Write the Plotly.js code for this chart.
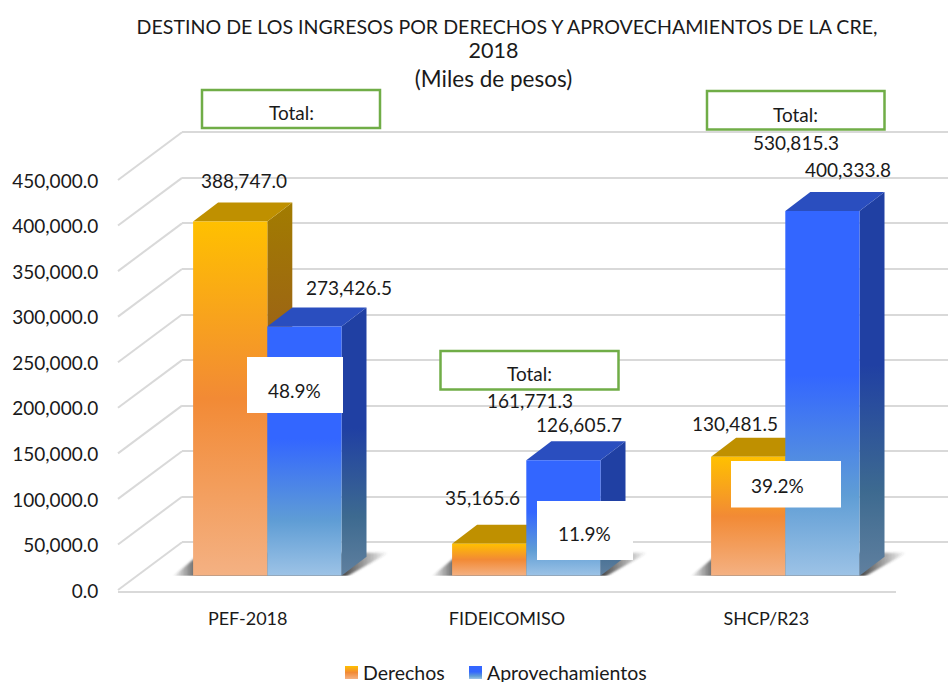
<!DOCTYPE html>
<html>
<head>
<meta charset="utf-8">
<script src="https://cdn.plot.ly/plotly-3.0.1.min.js"></script>
<style>html,body{margin:0;padding:0;background:#fff}#c{width:948px;height:682px}</style>
</head>
<body>
<div id="c"></div>
<script>
// ---- data ----
const categories = ['PEF-2018', 'FIDEICOMISO', 'SHCP/R23'];
const derechos = [388747.0, 35165.6, 130481.5];
const aprovechamientos = [273426.5, 126605.7, 400333.8];
const totals = [null, 161771.3, 530815.3];
const percents = ['48.9%', '11.9%', '39.2%'];
const titleLines = ['DESTINO DE LOS INGRESOS POR DERECHOS Y APROVECHAMIENTOS DE LA CRE,', '<span style="font-size:21.5px">2018</span>', '<span style="font-size:22.5px">(Miles de pesos)</span>'];
const tickStep = 50000, valueMax = 450000;

// ---- page layout constants (pixels) ----
const W = 948, H = 682;
const FONT = 'Lato, "Open Sans", sans-serif';
const INK = '#1a1a1a';
const GRID = '#d9d9d9';
const GREEN = '#70ad47';
const SIZE = 19;
const px = x => x / W, py = y => 1 - y / H;
const plotW = 777, plotH = 410;
const unitX = 3 / plotW, unitY = valueMax / plotH;
const depthX = 25 * unitX, depthY = 19 * unitY;
const barW = 0.2865;
const gridPad = 5000;

const fmt = v => v.toLocaleString('en-US', {minimumFractionDigits: 1, maximumFractionDigits: 1});
const poly = pts => 'M' + pts.map(p => p[0] + ',' + p[1]).join('L') + 'Z';

const tickvals = [];
for (let v = 0; v <= valueMax; v += tickStep) tickvals.push(v);

const shapes = [];
// Diagonal wall lines from the front plane to the back wall
tickvals.forEach(v => {
  const yF = 590 - v / unitY, yB = 542.3 - v / unitY;
  shapes.push({type: 'line', xref: 'paper', yref: 'paper', layer: 'below', x0: px(118), x1: px(182), y0: py(yF), y1: py(yB), line: {color: GRID, width: 2}});
});

// ---- 3D faces, derived from the data ----
const styleByIndex = {};
function face(path, fill, key) {
  styleByIndex[shapes.length] = key;
  shapes.push({type: 'path', xref: 'x2', yref: 'y2', layer: 'below', path, fillcolor: fill, line: {width: 0}});
}
categories.forEach((c, i) => {
  const l = i - barW, r = i + barW;
  face(poly([[l - 21 * unitX, -1.5 * unitY], [l + 8 * unitX, 23 * unitY], [r + 47 * unitX, 23 * unitY], [r + 4 * unitX, -1.5 * unitY]]), '#454545', 'shadow');
});
[[derechos, -1, 'o'], [aprovechamientos, 0, 'b']].forEach(([vals, off, k]) => {
  vals.forEach((v, i) => {
    const l = i + off * barW, r = l + barW;
    face(poly([[r, 0], [r + depthX, depthY], [r + depthX, v + depthY], [r, v]]), k === 'o' ? '#a27c00' : '#2040a3', k + 'Side');
    face(poly([[l, v], [l + depthX, v + depthY], [r + depthX, v + depthY], [r, v]]), k === 'o' ? '#bf9000' : '#2a4ebf', k + 'Top');
  });
});

// ---- boxes ----
const rect = (x0, y0, x1, y1, line) => ({type: 'rect', xref: 'paper', yref: 'paper', layer: 'above',
  x0: px(x0), x1: px(x1), y0: py(y1), y1: py(y0), fillcolor: '#ffffff', line});
const greenLine = {color: GREEN, width: 2.5};
const noLine = {width: 0};
shapes.push(rect(202, 90, 380, 128, greenLine));
shapes.push(rect(440.5, 351, 618.5, 389.5, greenLine));
shapes.push(rect(707, 91, 884.5, 129.5, greenLine));
shapes.push(rect(247, 357, 343, 413, noLine));
shapes.push(rect(537, 501, 633, 560, noLine));
shapes.push(rect(731, 461, 841, 507.5, noLine));

// ---- text ----
const note = (text, x, y) => ({text, xref: 'paper', yref: 'paper', x: px(x), y: py(y), xanchor: 'center', yanchor: 'middle',
  showarrow: false, font: {family: FONT, size: SIZE, color: INK}});
const barNote = (v, cat, barPos, sx, sy) => ({text: fmt(v), xref: 'x2', yref: 'y2', x: cat + barPos * barW, y: v,
  xshift: sx, yshift: sy, xanchor: 'center', yanchor: 'middle', showarrow: false, font: {family: FONT, size: SIZE, color: INK}});
const derShift = [[14, 41], [-7, 46], [-13, 33]];
const aprShift = [[45, 39], [16, 36], [26, 41]];
const annotations = [];
derechos.forEach((v, i) => annotations.push(barNote(v, i, -0.5, derShift[i][0], derShift[i][1])));
aprovechamientos.forEach((v, i) => annotations.push(barNote(v, i, 0.5, aprShift[i][0], aprShift[i][1])));
annotations.push(note('Total:', 291, 113), note('Total:', 529, 374), note('Total:', 795, 115));
annotations.push(note(fmt(totals[1]), 529.5, 400), note(fmt(totals[2]), 795.5, 142));
annotations.push(note(percents[0], 294, 390), note(percents[1], 584, 533), note(percents[2], 777, 485));

const traces = [
  {type: 'scatter', mode: 'none', x: [0], y: [0], xaxis: 'x', yaxis: 'y', showlegend: false, hoverinfo: 'skip'},
  {type: 'bar', name: 'Derechos', x: categories, y: derechos, xaxis: 'x2', yaxis: 'y2', marker: {color: '#f28a35'}, hoverinfo: 'skip', cliponaxis: false},
  {type: 'bar', name: 'Aprovechamientos', x: categories, y: aprovechamientos, xaxis: 'x2', yaxis: 'y2', marker: {color: '#3366ff'}, hoverinfo: 'skip', cliponaxis: false},
  {type: 'scatter', mode: 'none', x: categories, y: [0, 0, 0], xaxis: 'x3', yaxis: 'y3', showlegend: false, hoverinfo: 'skip'},
];

const padPx = gridPad / unitY;
const layout = {
  width: W, height: H, margin: {l: 0, r: 0, t: 0, b: 0},
  paper_bgcolor: '#ffffff', plot_bgcolor: 'rgba(0,0,0,0)',
  font: {family: FONT, size: SIZE, color: INK},
  title: {text: titleLines.join('<br>'), x: px(493.5), xanchor: 'center', y: py(34), yanchor: 'top', font: {family: FONT, size: 19.6, color: INK}},
  barmode: 'group', bargap: 0.427, bargroupgap: 0,
  // back wall
  xaxis: {domain: [px(182), 1], range: [0, 1], anchor: 'y', visible: false, fixedrange: true},
  yaxis: {domain: [py(542.3 + padPx), py(132.3 - padPx)], range: [-gridPad, valueMax + gridPad], anchor: 'x', showgrid: true, gridcolor: GRID, gridwidth: 2,
          tickvals, showticklabels: false, ticks: '', showline: false, zeroline: false, fixedrange: true},
  // bar plane
  xaxis2: {domain: [px(137.8), px(914.8)], type: 'category', categoryorder: 'array', categoryarray: categories, range: [-0.5, 2.5], anchor: 'y2', visible: false, fixedrange: true},
  yaxis2: {domain: [py(575.7), py(165.7)], range: [0, valueMax], anchor: 'x2', visible: false, fixedrange: true},
  // front plane: carries the labels
  xaxis3: {domain: [px(118), px(896)], type: 'category', categoryorder: 'array', categoryarray: categories, range: [-0.5, 2.5], anchor: 'y3',
           showgrid: false, zeroline: false, showline: true, linecolor: GRID, linewidth: 2, ticks: 'outside', ticklen: 10, tickcolor: 'rgba(0,0,0,0)', tickfont: {family: FONT, size: 18, color: INK}, fixedrange: true},
  yaxis3: {domain: [py(591), py(181)], range: [0, valueMax], anchor: 'x3', tickvals, tickformat: ',.1f', showgrid: false, zeroline: false, showline: false,
           ticks: 'outside', ticklen: 15, tickcolor: 'rgba(0,0,0,0)', tickfont: {family: FONT, size: SIZE, color: INK}, fixedrange: true},
  shapes, annotations,
  showlegend: true,
  legend: {orientation: 'h', x: 0.3, xanchor: 'left', y: 0.2, yanchor: 'top', font: {family: FONT, size: 19.5, color: INK}, itemclick: false, itemdoubleclick: false, traceorder: 'normal', bgcolor: 'rgba(0,0,0,0)'},
  hovermode: false
};

const SVGNS = 'http://www.w3.org/2000/svg';
function addGradient(defs, id, stops, horizontal) {
  const g = document.createElementNS(SVGNS, 'linearGradient');
  g.setAttribute('id', id);
  g.setAttribute('x1', '0'); g.setAttribute('y1', '0');
  g.setAttribute('x2', horizontal ? '1' : '0'); g.setAttribute('y2', horizontal ? '0' : '1');
  stops.forEach(([o, c, op]) => {
    const s = document.createElementNS(SVGNS, 'stop');
    s.setAttribute('offset', o); s.setAttribute('stop-color', c);
    if (op !== undefined) s.setAttribute('stop-opacity', op);
    g.appendChild(s);
  });
  defs.appendChild(g);
}

Plotly.newPlot('c', traces, layout, {displayModeBar: false, staticPlot: true}).then(gd => {
  const svg = gd.querySelector('svg.main-svg');
  let defs = svg.querySelector('defs');
  addGradient(defs, 'gOrange', [[0, '#ffc000'], [0.5, '#f28a35'], [1, '#f4b183']]);
  addGradient(defs, 'gBlue', [[0, '#3366ff'], [0.45, '#3366ff'], [0.78, '#5f9dd5'], [1, '#9dc3e6']]);
  addGradient(defs, 'gOrangeSide', [[0, '#a27c00'], [0.5, '#9a5a1e'], [1, '#a07a50']]);
  addGradient(defs, 'gBlueSide', [[0, '#2040a3'], [0.45, '#2040a3'], [0.78, '#3d6a90'], [1, '#60809f']]);
  addGradient(defs, 'gShadow', [[0, '#404040', 0], [0.12, '#404040', 0.9], [0.8, '#404040', 0.9], [1, '#404040', 0]], true);
  const f = document.createElementNS(SVGNS, 'filter');
  f.setAttribute('id', 'blurShadow');
  f.setAttribute('x', '-20%'); f.setAttribute('y', '-30%'); f.setAttribute('width', '140%'); f.setAttribute('height', '160%');
  const b = document.createElementNS(SVGNS, 'feGaussianBlur');
  b.setAttribute('stdDeviation', '1.3');
  f.appendChild(b);
  defs.appendChild(f);

  const bars = gd.querySelectorAll('.barlayer .trace');
  bars[0].querySelectorAll('.point path').forEach(p => p.style.fill = 'url(#gOrange)');
  bars[1].querySelectorAll('.point path').forEach(p => p.style.fill = 'url(#gBlue)');

  Object.keys(styleByIndex).forEach(k => {
    const key = styleByIndex[k];
    const p = gd.querySelector('.shapelayer path[data-index="' + k + '"]');
    if (!p) return;
    if (key === 'oSide') p.style.fill = 'url(#gOrangeSide)';
    if (key === 'bSide') p.style.fill = 'url(#gBlueSide)';
    if (key === 'shadow') { p.removeAttribute('clip-path'); p.style.fill = 'url(#gShadow)'; p.style.fillOpacity = 1; p.setAttribute('filter', 'url(#blurShadow)'); }
  });

  // Legend: square swatches and exact placement
  const sb = gd.querySelector('.legend .scrollbox');
  if (sb) sb.removeAttribute('clip-path');
  const legendEl = gd.querySelector('.legend');
  legendEl.removeAttribute('clip-path');
  const items = gd.querySelectorAll('.legend .traces');
  const textLeft = [363, 487];
  const fills = ['url(#gOrange)', 'url(#gBlue)'];
  const lm = /translate\(([-\d.]+)[ ,]*([-\d.]*)\)/.exec(legendEl.getAttribute('transform'));
  const t0 = items[0].querySelector('.legendtext').getBoundingClientRect();
  legendEl.setAttribute('transform', 'translate(' + lm[1] + ',' + (+lm[2] + 672 - (t0.top + t0.height / 2)) + ')');
  items.forEach((it, i) => {
    const t = it.querySelector('.legendtext');
    const r0 = t.getBoundingClientRect();
    const m = /translate\(([-\d.]+)[ ,]*([-\d.]*)\)/.exec(it.getAttribute('transform') || '');
    const cx = m ? +m[1] : 0, cy = m && m[2] ? +m[2] : 0;
    it.setAttribute('transform', 'translate(' + (cx + textLeft[i] - r0.left) + ',' + cy + ')');
    const p = it.querySelector('.legendpoints path');
    p.style.fill = fills[i];
    p.setAttribute('d', 'M0,-6.5h13v13h-13z');
    const pr = p.getBoundingClientRect();
    const tr = t.getBoundingClientRect();
    const dx = tr.left - 18 - pr.left;
    const dy = 672.5 - (pr.top + pr.height / 2);
    p.setAttribute('d', 'M' + dx + ',' + (dy - 6.5) + 'h13v13h-13z');
  });

  // Title lines: first line sits right of the other two, as in the source
  const lines = gd.querySelectorAll('.gtitle tspan.line');
  if (lines[0]) lines[0].setAttribute('x', parseFloat(lines[0].getAttribute('x')) + 13.5);
  if (lines[1]) lines[1].setAttribute('dy', '24');
  if (lines[2]) lines[2].setAttribute('dy', '53');
});
</script>
</body>
</html>
